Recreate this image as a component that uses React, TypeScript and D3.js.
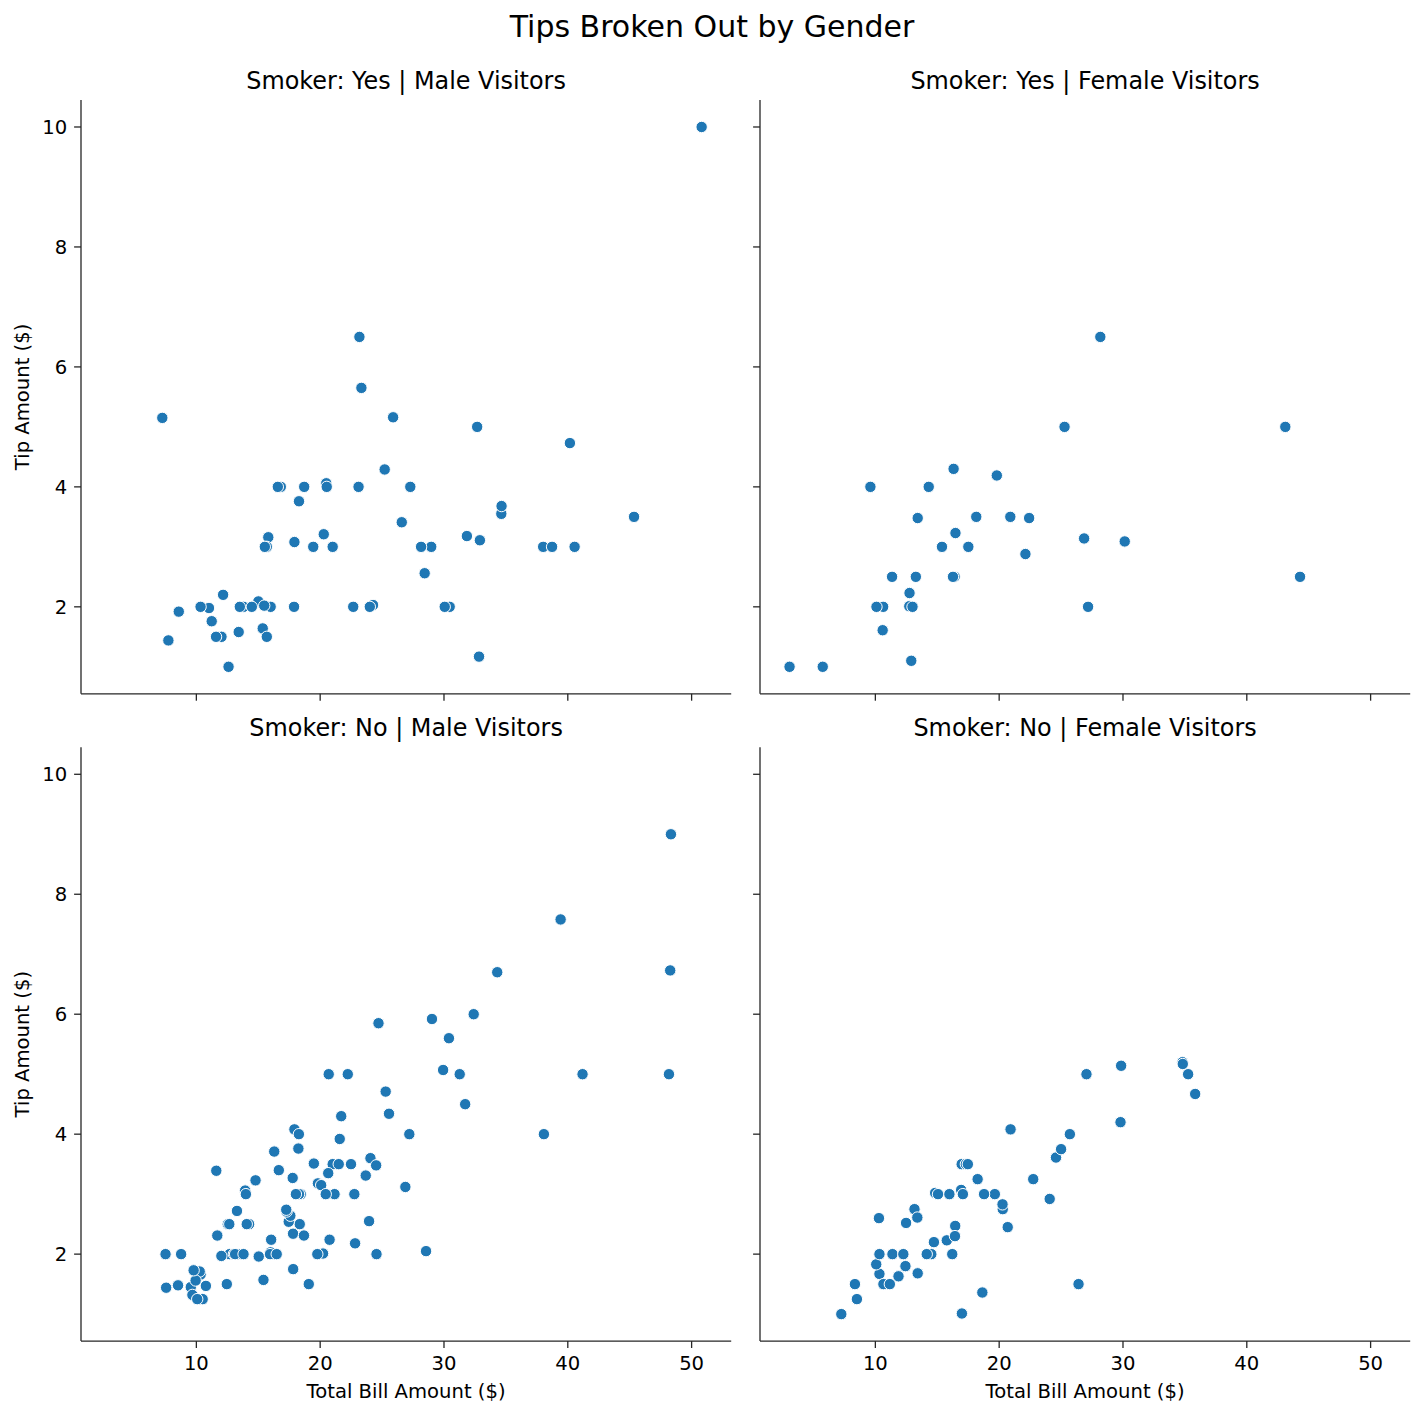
import React from 'react';
import * as d3 from 'd3';

// ---- data: total bill / tip per facet ----
const yesMaleBill = [38.01, 11.24, 20.29, 13.81, 11.02, 18.29, 15.01, 17.92, 19.44, 32.68, 28.97, 40.17, 27.28, 12.03, 21.01, 15.36, 20.49, 25.21, 16.0, 50.81, 15.81, 7.25, 31.85, 16.82, 32.9, 17.89, 14.48, 34.63, 34.65, 23.33, 45.35, 23.17, 40.55, 30.46, 23.1, 15.69, 28.44, 15.48, 16.58, 10.34, 13.51, 18.71, 20.53, 26.59, 38.73, 24.27, 30.06, 25.89, 28.15, 11.59, 7.74, 12.16, 8.58, 13.42, 24.01, 15.69, 15.53, 12.6, 32.83, 22.67];
const yesMaleTip = [3.0, 1.76, 3.21, 2.0, 1.98, 3.76, 2.09, 3.08, 3.0, 5.0, 3.0, 4.73, 4.0, 1.5, 3.0, 1.64, 4.06, 4.29, 2.0, 10.0, 3.16, 5.15, 3.18, 4.0, 3.11, 2.0, 2.0, 3.55, 3.68, 5.65, 3.5, 6.5, 3.0, 2.0, 4.0, 1.5, 2.56, 2.02, 4.0, 2.0, 2.0, 4.0, 4.0, 3.41, 3.0, 2.03, 2.0, 5.16, 3.0, 1.5, 1.44, 2.2, 1.92, 1.58, 2.0, 3.0, 3.0, 1.0, 1.17, 2.0];

const yesFemaleBill = [3.07, 26.86, 25.28, 5.75, 16.32, 11.35, 15.38, 44.3, 22.42, 14.31, 17.51, 10.59, 10.63, 9.6, 20.9, 18.15, 19.81, 43.11, 13.0, 12.74, 13.0, 16.4, 16.47, 12.76, 13.27, 28.17, 12.9, 30.14, 13.42, 16.27, 10.09, 22.12, 27.18];
const yesFemaleTip = [1.0, 3.14, 5.0, 1.0, 4.3, 2.5, 3.0, 2.5, 3.48, 4.0, 3.0, 1.61, 2.0, 4.0, 3.5, 3.5, 4.19, 5.0, 2.0, 2.01, 2.0, 2.5, 3.23, 2.23, 2.5, 6.5, 1.1, 3.09, 3.48, 2.5, 2.0, 2.88, 2.0];

const noMaleBill = [10.34, 21.01, 23.68, 25.29, 8.77, 26.88, 15.04, 14.78, 10.27, 15.42, 18.43, 21.58, 16.29, 20.65, 17.92, 39.42, 19.82, 17.81, 13.37, 12.69, 21.7, 9.55, 18.35, 17.78, 24.06, 16.31, 18.69, 31.27, 16.04, 17.46, 13.94, 9.68, 30.4, 18.29, 22.23, 32.4, 28.55, 18.04, 12.54, 9.94, 25.56, 19.49, 48.27, 17.59, 20.08, 20.23, 12.02, 10.51, 27.2, 22.76, 17.29, 16.66, 15.98, 13.03, 18.28, 24.71, 21.16, 22.49, 12.46, 18.24, 14.0, 38.07, 23.95, 29.93, 11.69, 14.26, 15.95, 8.52, 22.82, 19.08, 34.3, 41.19, 9.78, 7.51, 14.07, 13.13, 17.26, 24.55, 19.77, 48.17, 16.49, 21.5, 12.66, 13.81, 24.52, 20.76, 31.71, 20.69, 7.56, 48.33, 20.45, 13.28, 11.61, 10.77, 10.07, 29.03, 17.82];
const noMaleTip = [1.66, 3.5, 3.31, 4.71, 2.0, 3.12, 1.96, 3.23, 1.71, 1.57, 3.0, 3.92, 3.71, 3.35, 4.08, 7.58, 3.18, 2.34, 2.0, 2.0, 4.3, 1.45, 2.5, 3.27, 3.6, 2.0, 2.31, 5.0, 2.24, 2.54, 3.06, 1.32, 5.6, 3.0, 5.0, 6.0, 2.05, 3.0, 2.5, 1.56, 4.34, 3.51, 6.73, 2.64, 3.15, 2.01, 1.97, 1.25, 4.0, 3.0, 2.71, 3.4, 2.03, 2.0, 4.0, 5.85, 3.0, 3.5, 1.5, 3.76, 3.0, 4.0, 2.55, 5.07, 2.31, 2.5, 2.0, 1.48, 2.18, 1.5, 6.7, 5.0, 1.73, 2.0, 2.5, 2.0, 2.74, 2.0, 2.0, 5.0, 2.0, 3.5, 2.5, 2.0, 3.48, 2.24, 4.5, 5.0, 1.44, 9.0, 3.0, 2.72, 3.39, 1.47, 1.25, 5.92, 1.75];

const noFemaleBill = [16.99, 24.59, 35.26, 14.83, 10.33, 16.97, 20.29, 15.77, 19.65, 15.06, 20.69, 16.93, 10.29, 34.81, 26.41, 16.45, 17.07, 14.73, 10.07, 34.83, 22.75, 20.92, 7.25, 25.71, 17.31, 10.65, 12.43, 24.08, 13.42, 12.48, 29.8, 14.52, 11.38, 20.27, 11.17, 12.26, 18.26, 8.51, 10.33, 14.15, 13.16, 17.47, 27.05, 16.43, 8.35, 18.64, 11.87, 29.85, 25.0, 13.39, 16.21, 15.98, 35.83, 18.78];
const noFemaleTip = [1.01, 3.61, 5.0, 3.02, 1.67, 3.5, 2.75, 2.23, 3.0, 3.0, 2.45, 3.07, 2.6, 5.2, 1.5, 2.47, 3.0, 2.2, 1.83, 5.17, 3.25, 4.08, 1.0, 4.0, 3.5, 1.5, 1.8, 2.92, 1.68, 2.52, 4.2, 2.0, 2.0, 2.83, 1.5, 2.0, 3.25, 1.25, 2.0, 2.0, 2.75, 3.5, 5.0, 2.3, 1.5, 1.36, 1.63, 5.14, 3.75, 2.61, 2.0, 3.0, 4.67, 3.0];

const rowLabels = ['Yes', 'No'];
const colLabels = ['Male', 'Female'];
const xTicks = [10, 20, 30, 40, 50];
const yTicks = [2, 4, 6, 8, 10];

const facets = [
  { row: 0, col: 0, bill: yesMaleBill, tip: yesMaleTip },
  { row: 0, col: 1, bill: yesFemaleBill, tip: yesFemaleTip },
  { row: 1, col: 0, bill: noMaleBill, tip: noMaleTip },
  { row: 1, col: 1, bill: noFemaleBill, tip: noFemaleTip },
];

// ---- layout ----
const W = 1424;
const H = 1416;
const colLeft = [81, 760];
const rowTop = [100, 747.3];
const panelW = 650.2;
const panelH = 593.8;
const font = 'DejaVu Sans, sans-serif';
const ink = '#262626';
const dotColor = '#1f77b4';
const tickLen = 6.9;
const tickPad = 6.9;
const labelSize = 19.6;

const allBill = facets.flatMap(f => f.bill);
const allTip = facets.flatMap(f => f.tip);
const pad = (ext: [number, number]): [number, number] => {
  const m = (ext[1] - ext[0]) * 0.05;
  return [ext[0] - m, ext[1] + m];
};
const xDomain = pad(d3.extent(allBill) as [number, number]);
const yDomain = pad(d3.extent(allTip) as [number, number]);

const Panel: React.FC<{ f: typeof facets[number] }> = ({ f }) => {
  const x = d3.scaleLinear().domain(xDomain).range([0, panelW]);
  const y = d3.scaleLinear().domain(yDomain).range([panelH, 0]);
  const showX = f.row === 1;
  const showY = f.col === 0;
  return (
    <g transform={`translate(${colLeft[f.col]},${rowTop[f.row]})`}>
      {f.bill.map((b, i) => (
        <circle key={i} cx={x(b)} cy={y(f.tip[i])} r={5.7}
          fill={dotColor} stroke="#fff" strokeWidth={1} />
      ))}
      {/* spines */}
      <line x1={0} x2={0} y1={0} y2={panelH} stroke={ink} strokeWidth={1.3} />
      <line x1={0} x2={panelW} y1={panelH} y2={panelH} stroke={ink} strokeWidth={1.3} />
      {xTicks.map(t => (
        <g key={t} transform={`translate(${x(t)},${panelH})`}>
          <line y1={0} y2={tickLen} stroke={ink} strokeWidth={1.3} />
          {showX && (
            <text y={tickLen + tickPad + labelSize * 0.76} textAnchor="middle"
              fontFamily={font} fontSize={labelSize} fill="#000">{t}</text>
          )}
        </g>
      ))}
      {yTicks.map(t => (
        <g key={t} transform={`translate(0,${y(t)})`}>
          <line x1={0} x2={-tickLen} stroke={ink} strokeWidth={1.3} />
          {showY && (
            <text x={-tickLen - tickPad} dy="0.36em" textAnchor="end"
              fontFamily={font} fontSize={labelSize} fill="#000">{t}</text>
          )}
        </g>
      ))}
      <text x={panelW / 2} y={-11} textAnchor="middle" fontFamily={font}
        fontSize={23.9} fill="#000">
        {`Smoker: ${rowLabels[f.row]} | ${colLabels[f.col]} Visitors`}
      </text>
      {showX && (
        <text x={panelW / 2} y={panelH + 56.5} textAnchor="middle" fontFamily={font}
          fontSize={labelSize} fill="#000">Total Bill Amount ($)</text>
      )}
      {showY && (
        <text transform={`translate(-52,${panelH / 2}) rotate(-90)`} textAnchor="middle"
          fontFamily={font} fontSize={labelSize} fill="#000">Tip Amount ($)</text>
      )}
    </g>
  );
};

export default function App() {
  return (
    <svg width={W} height={H} viewBox={`0 0 ${W} ${H}`}
      style={{ position: 'absolute', left: 0, top: 0, background: '#fff' }}>
      <rect width={W} height={H} fill="#fff" />
      <text x={W / 2} y={37} textAnchor="middle" fontFamily={font} fontSize={30} fill="#000">
        Tips Broken Out by Gender
      </text>
      {facets.map(f => <Panel key={`${f.row}-${f.col}`} f={f} />)}
    </svg>
  );
}
